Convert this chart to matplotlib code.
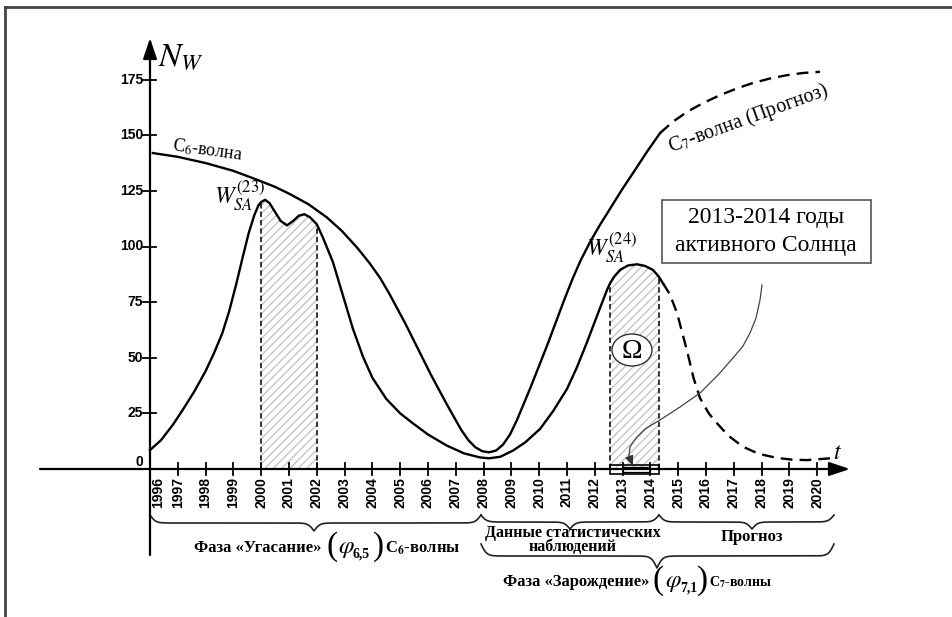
import matplotlib
matplotlib.use("Agg")
import matplotlib.pyplot as plt
import numpy as np
from matplotlib.patches import Rectangle, Ellipse

# --- data -----------------------------------------------------------------
# W_SA curve (solar activity), observed part
w_years = [1996.0, 1996.4, 1996.83, 1997.2, 1997.6, 1998.0, 1998.3, 1998.6,
           1998.85, 1999.1, 1999.35, 1999.55, 1999.75, 1999.9, 2000.0, 2000.14,
           2000.3, 2000.5, 2000.7, 2000.93, 2001.15, 2001.35, 2001.55, 2001.75,
           2002.0, 2002.22, 2002.58, 2002.94, 2003.3, 2003.66, 2004.0, 2004.5,
           2005.0, 2005.46, 2006.0, 2006.68, 2007.3, 2007.87, 2008.2, 2008.6,
           2009.06, 2009.5, 2010.03, 2010.5, 2011.0, 2011.35, 2011.72, 2012.1,
           2012.44, 2012.55, 2012.7, 2012.91, 2013.2, 2013.52, 2013.8, 2014.09,
           2014.3, 2014.45]
w_vals = [8.5, 13, 20, 27, 35, 44, 52, 61,
          71, 83, 96, 106, 114, 118.5, 120, 121,
          119.5, 115.5, 111.5, 109.5, 111.5, 113.8, 114.5, 113.2,
          110, 104, 93, 78, 63, 50.5, 41, 31.5,
          25, 20.5, 15.5, 10.5, 7, 5.2, 4.8, 5.5,
          8.3, 12, 18, 26, 36, 45.5, 57, 69.5,
          80.5, 83.5, 86.5, 89.5, 91.5, 92, 91.3, 89.5,
          86.5, 83.5]
# W_SA forecast (dashed)
w_fc_years = [2014.45, 2014.7, 2014.96, 2015.32, 2015.55, 2015.78, 2016.1, 2016.4,
              2016.8, 2017.33, 2017.9, 2018.55, 2019.1, 2019.63, 2020.46]
w_fc_vals = [83.5, 78.5, 70, 53, 41, 32, 25, 20.5,
             15, 10, 6.8, 5, 4.2, 4, 4.8]

# C6 wave and observed part of C7 wave
c_years = [1996.1, 1997.0, 1998.0, 1999.0, 1999.85, 2000.5, 2001.04, 2001.7,
           2002.37, 2002.9, 2003.45, 2003.9, 2004.27, 2004.6, 2004.9, 2005.2,
           2005.46, 2005.8, 2006.1, 2006.4, 2006.68, 2006.95, 2007.2, 2007.45,
           2007.7, 2007.95, 2008.2, 2008.45, 2008.7, 2008.95, 2009.2, 2009.45,
           2009.7, 2010.0, 2010.3, 2010.6, 2010.9, 2011.2, 2011.5, 2011.85,
           2012.2, 2012.6, 2013.0, 2013.4, 2013.9, 2014.35]
c_vals = [142, 140.3, 137.5, 134, 130, 126.8, 123.5, 119,
          113, 107, 99.5, 92.5, 86, 79, 72, 65,
          58.5, 50, 42.5, 35.5, 29, 23, 17.5, 13,
          9.8, 8, 7.5, 8.3, 11, 15.5, 22, 29.5,
          37, 46.5, 56, 66, 76, 85.5, 94, 102.5,
          110, 118, 126, 133.5, 143, 151]
# C7 wave forecast (dashed)
c7_fc_years = [2014.35, 2014.8, 2015.32, 2015.9, 2016.5, 2017.1, 2017.69,
               2018.3, 2018.91, 2019.5, 2020.1]
c7_fc_vals = [151, 156, 160.5, 164.5, 168, 171, 173.5, 175.5, 177, 178, 178.5]

year_ticks = list(range(1996, 2021))
n_ticks = [0, 25, 50, 75, 100, 125, 150, 175]
shade_spans = [(2000.0, 2002.0), (2012.55, 2014.3)]

plt.rcParams["mathtext.fontset"] = "stix"
plt.rcParams["hatch.linewidth"] = 1.0
SERIF = ["Liberation Serif", "DejaVu Serif"]
SANS = ["Liberation Sans", "DejaVu Sans"]


# pixel position -> data position (axes fill the whole figure)
def X(px):
    return 1996 + (px - 150) / 27.8


def Y(py):
    return (469 - py) / 2.225


def brace(x0, x1, xtip, y_end, depth, lw=1.2):
    # curly brace with ends up and tip down, given in pixels
    pts_x, pts_y = [], []
    for a, b in [(x0, xtip), (xtip, x1)]:
        L = abs(b - a)
        t = np.linspace(0, L, 200)
        k = 0.35
        f = 1 / (1 + np.exp(-k * t)) + 1 / (1 + np.exp(-k * (t - L))) - 0.5
        if a == xtip:
            f = f[::-1]
        pts_x.append(np.linspace(a, b, 200))
        pts_y.append(y_end + depth * f)
    xs = np.concatenate(pts_x)
    ys = np.concatenate(pts_y)
    ax.plot([X(v) for v in xs], [Y(v) for v in ys], color="#222", lw=lw)


def phase_label(text, x_txt, x_open, x_phi, x_close, x_tail, py, sub, tail, tail_size):
    ax.text(X(x_txt), Y(py), text, fontsize=12, fontweight="bold",
            family=SERIF, ha="center", va="center")
    ax.text(X(x_open), Y(py - 1), "(", fontsize=24, family=SERIF, ha="center", va="center")
    ax.text(X(x_close), Y(py - 1), ")", fontsize=24, family=SERIF, ha="center", va="center")
    ax.text(X(x_phi), Y(py), r"$\varphi$", fontsize=18, ha="center", va="center")
    ax.text(X(x_phi + 7), Y(py + 6), sub, fontsize=10, fontweight="bold", family=SERIF,
            ha="left", va="center")
    ax.text(X(x_tail), Y(py), tail, fontsize=tail_size, fontweight="bold",
            family=SERIF, ha="left", va="center")


fig = plt.figure(figsize=(9.52, 6.17), dpi=100)
ax = fig.add_axes([0, 0, 1, 1])
ax.set_xlim(X(0), X(952))
ax.set_ylim(Y(617), Y(0))
ax.axis("off")

# frame
ax.plot([X(5), X(952)], [Y(7), Y(7)], color="#444", lw=2)
ax.plot([X(5), X(5)], [Y(7), Y(617)], color="#444", lw=2)

# axes with arrows
arrow = dict(arrowstyle="-|>,head_length=0.9,head_width=0.3", lw=1.6, color="k",
             shrinkA=0, shrinkB=0, mutation_scale=14)
ax.annotate("", xy=(X(850), 0), xytext=(X(40), 0), arrowprops=arrow)
ax.annotate("", xy=(1996, Y(38)), xytext=(1996, Y(555)), arrowprops=arrow)

for yr in year_ticks[1:]:
    ax.plot([yr, yr], [Y(463), Y(475)], color="k", lw=1.3)
for yr in year_ticks:
    xpos = X(158) if yr == 1996 else yr
    ax.text(xpos, Y(477), str(yr), rotation=90, ha="center", va="top",
            fontsize=10, fontweight="bold", family=SANS)
for n in n_ticks[1:]:
    ax.plot([X(143), X(156)], [n, n], color="k", lw=1.3)
for n in n_ticks:
    ax.text(X(143), n if n else Y(462), str(n), ha="right", va="center",
            fontsize=10, fontweight="bold", family=SANS)

ax.text(X(158), Y(65), r"$N_W$", fontsize=24, ha="left", va="baseline")
ax.text(X(838), Y(452), r"$t$", fontsize=17, ha="center", va="center")

# hatched areas under W_SA
wx = np.array(w_years)
wy = np.array(w_vals)
for a, b in shade_spans:
    m = (wx >= a) & (wx <= b)
    ax.fill_between(wx[m], wy[m], 0, facecolor="none", edgecolor="#c4c4c4",
                    hatch="////", lw=0, zorder=1)
    for edge in (a, b):
        top = np.interp(edge, wx, wy)
        ax.plot([edge, edge], [0, top], color="k", lw=1.1, dashes=(3.5, 2), zorder=2)

# curves
ax.plot(w_years, w_vals, color="k", lw=1.7, zorder=3)
ax.plot(w_fc_years, w_fc_vals, color="k", lw=1.7, dashes=(5, 3), zorder=3)
ax.plot(c_years, c_vals, color="k", lw=1.7, zorder=3)
ax.plot(c7_fc_years, c7_fc_vals, color="k", lw=1.7, dashes=(5, 3), zorder=3)

# curve labels
ax.text(X(208), Y(150), "C$_6$-волна", rotation=-8, fontsize=13, family=SERIF,
        ha="center", va="center")
ax.text(X(748), Y(119), "C$_7$-волна (Прогноз)", rotation=20, fontsize=14.5,
        family=SERIF, ha="center", va="center", rotation_mode="anchor")
ax.text(X(240), Y(196), r"$W_{SA}^{(23)}$", fontsize=17, ha="center", va="center")
ax.text(X(612), Y(248), r"$W_{SA}^{(24)}$", fontsize=17, ha="center", va="center")

# Omega marker
ax.add_patch(Ellipse((X(632), Y(350)), 40 / 27.8, 32 / 2.225, facecolor="white",
                     edgecolor="#333", lw=1.0, zorder=4))
ax.text(X(632), Y(351), "Ω", fontsize=20, family=SERIF, ha="center", va="center", zorder=5)

# small box on the time axis
ax.add_patch(Rectangle((2012.55, Y(474)), 2014.3 - 2012.55, 9 / 2.225,
                       facecolor="none", edgecolor="k", lw=1.2, zorder=4))
ax.add_patch(Rectangle((2013.0, Y(471.5)), 1.0, 5 / 2.225,
                       facecolor="none", edgecolor="k", lw=0.9, zorder=4))

# note box with pointer
ax.add_patch(Rectangle((X(662), Y(263)), (871 - 662) / 27.8, 63 / 2.225,
                       facecolor="white", edgecolor="#555", lw=1.2, zorder=4))
ax.text(X(766), Y(217), "2013-2014 годы", fontsize=17, family=SERIF,
        ha="center", va="center", zorder=5)
ax.text(X(766), Y(245), "активного Солнца", fontsize=17, family=SERIF,
        ha="center", va="center", zorder=5)
ptr_x = [762, 760, 756, 750, 743, 733, 718, 700, 680, 660, 645, 636, 630, 629]
ptr_y = [285, 300, 318, 333, 346, 358, 375, 393, 407, 420, 429, 438, 447, 456]
ax.plot([X(v) for v in ptr_x], [Y(v) for v in ptr_y], color="#444", lw=0.9, zorder=4)
ax.annotate("", xy=(X(633), Y(466)), xytext=(X(629), Y(456)),
            arrowprops=dict(arrowstyle="-|>,head_length=0.6,head_width=0.25",
                            color="#333", lw=0.9, shrinkA=0, shrinkB=0,
                            mutation_scale=10), zorder=5)

# braces and phase captions
brace(150, 481, 314, 515, 16)
brace(481, 659, 570, 515, 14)
brace(659, 834, 752, 515, 14)
brace(481, 834, 657, 544, 24)

ax.text(X(573), Y(540), "Данные статистических\nнаблюдений", fontsize=11.5,
        fontweight="bold", family=SERIF, ha="center", va="center", linespacing=0.9)
ax.text(X(752), Y(537), "Прогноз", fontsize=12, fontweight="bold", family=SERIF,
        ha="center", va="center")

phase_label("Фаза «Угасание»", 258, 332, 346, 379, 385, 548, "6,5",
            "C$_\\mathbf{6}$-волны", 12)
phase_label("Фаза «Зарождение»", 576, 658, 673, 703, 709, 582, "7,1",
            "C$_\\mathbf{7}$-волны", 10)

fig.savefig("out.png", dpi=100)
